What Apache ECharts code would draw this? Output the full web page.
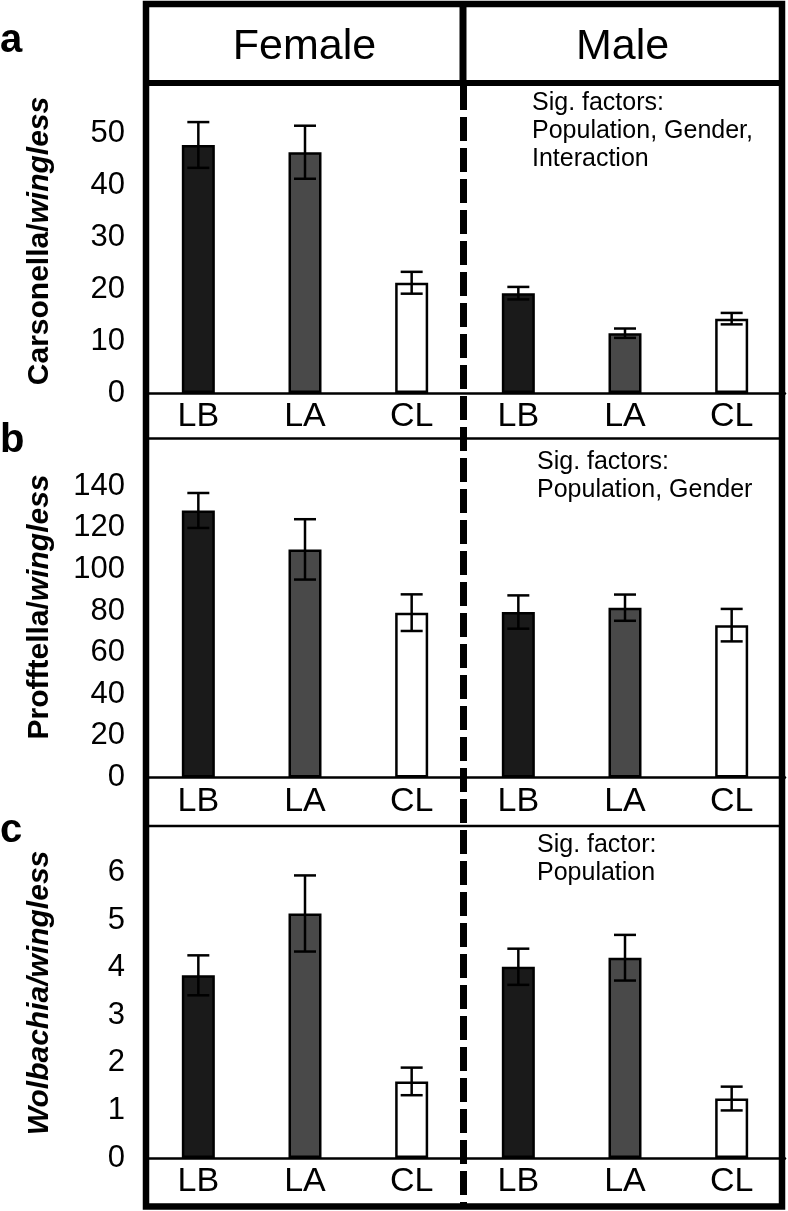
<!DOCTYPE html>
<html>
<head>
<meta charset="utf-8">
<script src="https://cdn.jsdelivr.net/npm/echarts@6/dist/echarts.min.js"></script>
<style>
  html, body { margin: 0; padding: 0; background: #fff; }
  #main { width: 788px; height: 1211px; }
</style>
</head>
<body>
<div id="main"></div>
<script>
const FONT = 'Liberation Sans, Arial, sans-serif';

// populations, female group first then male
const categories = ['LB', 'LA', 'CL', 'LB', 'LA', 'CL'];
const groups = ['Female', 'Male'];
const barColors = ['#1a1a1a', '#494949', '#ffffff', '#1a1a1a', '#494949', '#ffffff'];

// a: Carsonella/wingless
const carsonellaMean = [47.7, 46.3, 21.2, 19.2, 11.5, 14.3];
const carsonellaErr = [4.4, 5.1, 2.1, 1.2, 0.9, 1.1];
const carsonellaTicks = [0, 10, 20, 30, 40, 50];

// b: Profftella/wingless
const profftellaMean = [128.3, 109.6, 79.2, 79.5, 81.6, 73.2];
const profftellaErr = [8.4, 14.5, 8.8, 8.0, 6.3, 7.8];
const profftellaTicks = [0, 20, 40, 60, 80, 100, 120, 140];

// c: Wolbachia/wingless
const wolbachiaMean = [3.84, 5.14, 1.61, 4.02, 4.21, 1.25];
const wolbachiaErr = [0.42, 0.8, 0.29, 0.38, 0.48, 0.25];
const wolbachiaTicks = [0, 1, 2, 3, 4, 5, 6];

const panels = [
  { letter: 'a', mean: carsonellaMean, err: carsonellaErr, ticks: carsonellaTicks,
    max: 60, interval: 10, top: 81, height: 312, letterY: 41, titleY: 241,
    title: '{b|Carsonella/}{i|wingless}', sig: 'Sig. factors:\nPopulation, Gender,\nInteraction', sigX: 532, sigY: 89 },
  { letter: 'b', mean: profftellaMean, err: profftellaErr, ticks: profftellaTicks,
    max: 160, interval: 20, top: 444.5, height: 333, letterY: 441, titleY: 607,
    title: '{b|Profftella/}{i|wingless}', sig: 'Sig. factors:\nPopulation, Gender', sigX: 537, sigY: 448 },
  { letter: 'c', mean: wolbachiaMean, err: wolbachiaErr, ticks: wolbachiaTicks,
    max: 7, interval: 1, top: 825, height: 333, letterY: 831, titleY: 993,
    title: '{i|Wolbachia/wingless}', sig: 'Sig. factor:\nPopulation', sigX: 537, sigY: 831 }
];

function errorBar(params, api) {
  const x = api.value(0);
  const hi = api.coord([x, api.value(2)]);
  const lo = api.coord([x, api.value(1)]);
  const hw = 11;
  const st = { stroke: '#000', lineWidth: 2.5 };
  return {
    type: 'group',
    children: [
      { type: 'line', shape: { x1: hi[0], y1: hi[1], x2: lo[0], y2: lo[1] }, style: st },
      { type: 'line', shape: { x1: hi[0] - hw, y1: hi[1], x2: hi[0] + hw, y2: hi[1] }, style: st },
      { type: 'line', shape: { x1: lo[0] - hw, y1: lo[1], x2: lo[0] + hw, y2: lo[1] }, style: st }
    ]
  };
}

const grid = [], xAxis = [], yAxis = [], series = [];
const graphic = [];

panels.forEach((p, k) => {
  grid.push({ left: 145, width: 640, top: p.top, height: p.height });
  xAxis.push({
    type: 'category', gridIndex: k, data: categories,
    axisLine: { lineStyle: { color: '#000', width: 2.5 } },
    axisTick: { show: false },
    axisLabel: { interval: 0, color: '#000', fontSize: 34, fontFamily: FONT, margin: 24, verticalAlign: 'middle' }
  });
  yAxis.push({
    type: 'value', gridIndex: k, min: 0, max: p.max, interval: p.interval,
    axisLine: { show: false }, axisTick: { show: false }, splitLine: { show: false },
    axisLabel: {
      color: '#000', fontSize: 31, fontFamily: FONT, margin: 20,
      formatter: v => p.ticks.includes(v) ? String(v) : ''
    }
  });
  series.push({
    type: 'bar', xAxisIndex: k, yAxisIndex: k, barWidth: 33,
    itemStyle: { borderColor: '#000', borderWidth: 2.5 },
    data: p.mean.map((v, i) => ({ value: v, itemStyle: { color: barColors[i] } }))
  });
  series.push({
    type: 'custom', xAxisIndex: k, yAxisIndex: k, renderItem: errorBar,
    encode: { x: 0, y: [1, 2] }, z: 3,
    data: p.mean.map((v, i) => [i, v - p.err[i], v + p.err[i]])
  });

  graphic.push({
    type: 'text', x: 0, y: p.letterY,
    style: { text: p.letter, font: 'bold 40px ' + FONT, fill: '#000', textAlign: 'left', textVerticalAlign: 'middle' }
  });
  graphic.push({
    type: 'text', x: 40, y: p.titleY, rotation: Math.PI / 2,
    style: {
      text: p.title, textAlign: 'center', textVerticalAlign: 'middle', fill: '#000',
      rich: {
        b: { fontSize: 30, fontWeight: 'bold', fontFamily: FONT, fill: '#000' },
        i: { fontSize: 30, fontWeight: 'bold', fontStyle: 'italic', fontFamily: FONT, fill: '#000' }
      }
    }
  });
  graphic.push({
    type: 'text', x: p.sigX, y: p.sigY, z: 10,
    style: { text: p.sig, font: '25px ' + FONT, fill: '#000', lineHeight: 28, textVerticalAlign: 'top' }
  });
});

// header texts
graphic.push({ type: 'text', x: 304.5, y: 47,
  style: { text: groups[0], font: '43px ' + FONT, fill: '#000', textAlign: 'center', textVerticalAlign: 'middle' } });
graphic.push({ type: 'text', x: 622.5, y: 47,
  style: { text: groups[1], font: '43px ' + FONT, fill: '#000', textAlign: 'center', textVerticalAlign: 'middle' } });

// frame lines
const lineStyle = (w, dash) => ({ stroke: '#000', lineWidth: w, lineDash: dash || null });
graphic.push({ type: 'line', z: 20, shape: { x1: 146, y1: 83, x2: 782, y2: 83 }, style: lineStyle(6) });
graphic.push({ type: 'line', z: 20, shape: { x1: 463, y1: 4, x2: 463, y2: 86 }, style: lineStyle(7) });
graphic.push({ type: 'line', z: 20, shape: { x1: 463.5, y1: 86, x2: 463.5, y2: 1206 }, style: lineStyle(7, [24, 7]) });
graphic.push({ type: 'line', z: 20, shape: { x1: 146, y1: 438.5, x2: 782, y2: 438.5 }, style: lineStyle(2.5) });
graphic.push({ type: 'line', z: 20, shape: { x1: 146, y1: 826, x2: 782, y2: 826 }, style: lineStyle(2.5) });
graphic.push({ type: 'rect', z: 21, shape: { x: 146, y: 4, width: 636, height: 1202.5 },
  style: { fill: 'none', stroke: '#000', lineWidth: 6.5 } });

const chart = echarts.init(document.getElementById('main'));
chart.setOption({
  animation: false,
  backgroundColor: '#fff',
  grid, xAxis, yAxis, series, graphic
});
</script>
</body>
</html>
